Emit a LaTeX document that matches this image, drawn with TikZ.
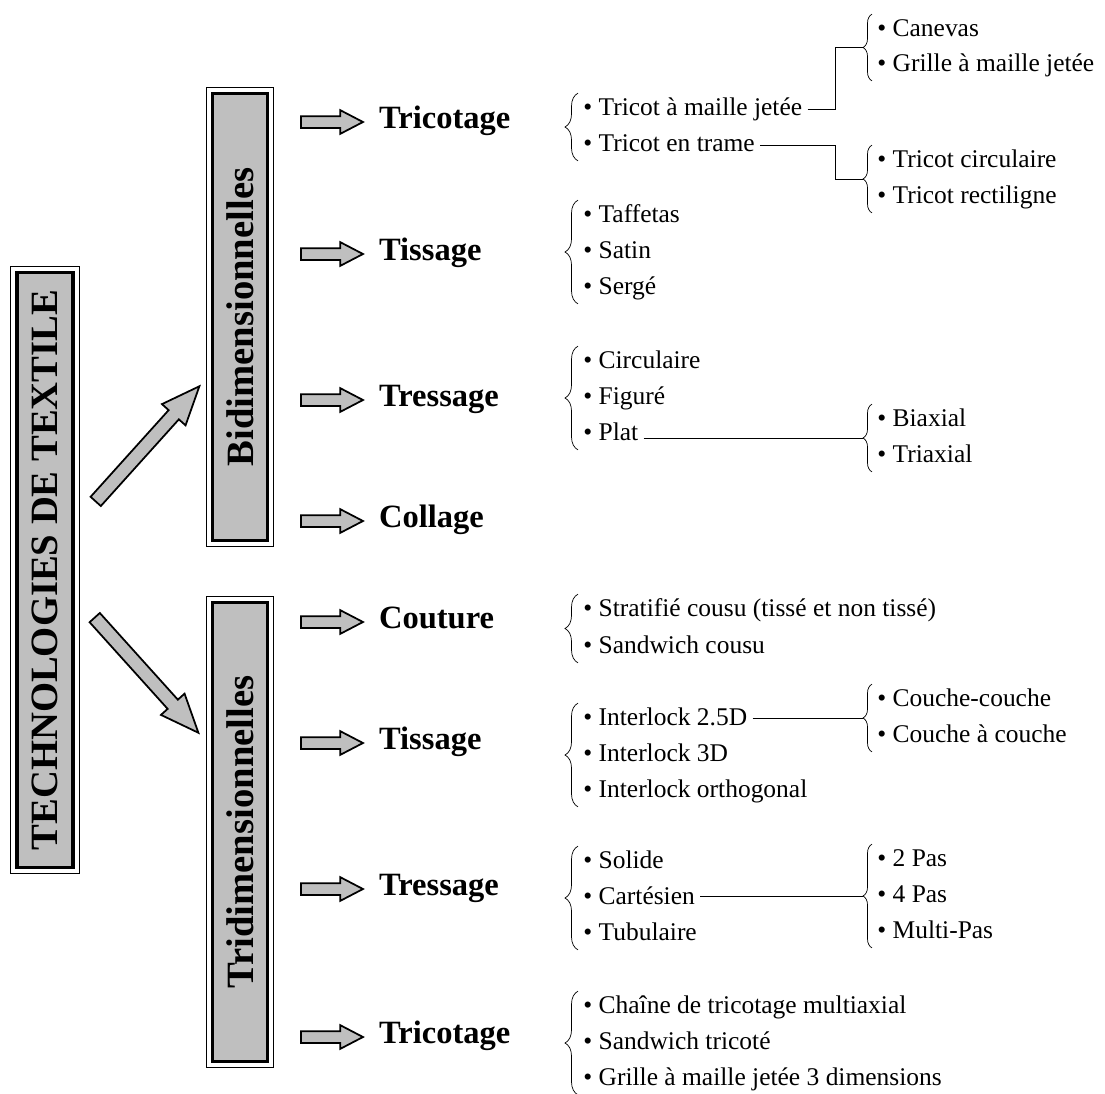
\documentclass[tikz,border=0pt]{standalone}
\usepackage{fontspec}
\setmainfont{Liberation Serif}
\usetikzlibrary{shapes,arrows,positioning,calc,decorations.pathreplacing}

\newcommand{\itemfont}{\fontsize{14.5}{17}\selectfont}
\newcommand{\catfont}{\bfseries\fontsize{18.5}{22}\selectfont}
\newcommand{\boxfont}{\bfseries\fontsize{22}{26}\selectfont}

\begin{document}
\begin{tikzpicture}[
    x=0.02cm, y=-0.02cm,
    mainbox/.style={rectangle, draw, line width=2pt, fill=gray!50, inner sep=0pt, font=\boxfont},
    fatarrow/.style={single arrow, draw, line width=1pt, fill=gray!50, inner xsep=0pt},
    smallarrow/.style={fatarrow, minimum height=1.24cm, inner ysep=0.1cm, single arrow head extend=0.12cm, single arrow tip angle=55},
    bigarrow/.style={fatarrow, minimum height=3.1cm, inner ysep=0.12cm, single arrow head extend=0.18cm, single arrow tip angle=45},
    cat/.style={anchor=west, inner sep=1pt, text height=1.0em, text depth=0.22em, font=\catfont},
    item/.style={anchor=west, inner xsep=0.1cm, inner ysep=0pt, text height=1.0em, text depth=0.22em, minimum height=0.62cm, font=\itemfont},
    lbrace/.style={decorate, decoration={brace, amplitude=0.26cm}, thin},
    sbrace/.style={decorate, decoration={brace, amplitude=0.18cm}, thin},
    link/.style={thin}
]
\useasboundingbox (0,0) rectangle (1105,1093);

% Main boxes
\node[mainbox, minimum width=1.12cm, minimum height=11.9cm] (tech) at (45,570) {\rotatebox{90}{TECHNOLOGIES DE TEXTILE}};
\node[mainbox, minimum width=1.1cm, minimum height=8.94cm] (bidim) at (240,317) {\rotatebox{90}{Bidimensionnelles}};
\node[mainbox, minimum width=1.1cm, minimum height=9.18cm] (tridim) at (240,832) {\rotatebox{90}{Tridimensionnelles}};
\foreach \b in {tech,bidim,tridim}
    \draw[line width=0.6pt] ([shift={(-2.5pt,-2.5pt)}]\b.south west) rectangle ([shift={(2.5pt,2.5pt)}]\b.north east);

% Big arrows
\node[bigarrow, rotate=48] (uparrow) at (142,450) {};
\node[bigarrow, rotate=-48] (downarrow) at (141,669) {};

% Categories
\foreach \y/\txt/\parent [count=\i] in {122/Tricotage/bidim, 254/Tissage/bidim, 400/Tressage/bidim, 521/Collage/bidim,
        622/Couture/tridim, 743/Tissage/tridim, 889/Tressage/tridim, 1037/Tricotage/tridim} {
    \node[cat] (cat\i) at (377,\y) {\txt};
    \path (\parent.east |- cat\i) -- (cat\i.west) node[smallarrow, pos=0.53] (arr\i) {};
}

% Bidimensionnelles lists
\foreach \txt [count=\i] in {Tricot à maille jetée, Tricot en trame}
    \node[item] (tric\i) at (578,{109+36*(\i-1)}) {\textbullet\ \txt};
\foreach \txt [count=\i] in {Taffetas, Satin, Sergé}
    \node[item] (tiss\i) at (578,{216+36*(\i-1)}) {\textbullet\ \txt};
\foreach \txt [count=\i] in {Circulaire, Figuré, Plat}
    \node[item] (tres\i) at (578,{362+36*(\i-1)}) {\textbullet\ \txt};

% Tridimensionnelles lists
\foreach \txt [count=\i] in {Stratifié cousu (tissé et non tissé), Sandwich cousu}
    \node[item] (cout\i) at (578,{610+37*(\i-1)}) {\textbullet\ \txt};
\foreach \txt [count=\i] in {Interlock 2.5D, Interlock 3D, Interlock orthogonal}
    \node[item] (intl\i) at (578,{719+36*(\i-1)}) {\textbullet\ \txt};
\foreach \txt [count=\i] in {Solide, Cartésien, Tubulaire}
    \node[item] (solid\i) at (578,{862+36*(\i-1)}) {\textbullet\ \txt};
\foreach \txt [count=\i] in {Chaîne de tricotage multiaxial, Sandwich tricoté, Grille à maille jetée 3 dimensions}
    \node[item] (mult\i) at (578,{1007+36*(\i-1)}) {\textbullet\ \txt};

% Sub lists
\foreach \txt [count=\i] in {Canevas, Grille à maille jetée}
    \node[item] (canv\i) at (872,{30+35*(\i-1)}) {\textbullet\ \txt};
\foreach \txt [count=\i] in {Tricot circulaire, Tricot rectiligne}
    \node[item] (circ\i) at (872,{161+36*(\i-1)}) {\textbullet\ \txt};
\foreach \txt [count=\i] in {Biaxial, Triaxial}
    \node[item] (biax\i) at (872,{420+36*(\i-1)}) {\textbullet\ \txt};
\foreach \txt [count=\i] in {Couche-couche, Couche à couche}
    \node[item] (couc\i) at (872,{700+36*(\i-1)}) {\textbullet\ \txt};
\foreach \txt [count=\i] in {2 Pas, 4 Pas, Multi-Pas}
    \node[item] (pas\i) at (872,{860+36*(\i-1)}) {\textbullet\ \txt};

% Braces
\draw[lbrace] (tric2.south west) -- (tric1.north west);
\draw[lbrace] (tiss3.south west) -- (tiss1.north west);
\draw[lbrace] (tres3.south west) -- (tres1.north west);
\draw[lbrace] (cout2.south west) -- (cout1.north west);
\draw[lbrace] (intl3.south west) -- (intl1.north west);
\draw[lbrace] (solid3.south west) -- (solid1.north west);
\draw[lbrace] (mult3.south west) -- (mult1.north west);

\draw[sbrace] (canv2.south west) -- (canv1.north west);
\draw[sbrace] (circ2.south west) -- (circ1.north west);
\draw[sbrace] (biax2.south west) -- (biax1.north west);
\draw[sbrace] (couc2.south west) -- (couc1.north west);
\draw[sbrace] (pas3.south west) -- (pas1.north west);

% Brace tips
\coordinate (canvtip) at ($(canv1.north west)!.5!(canv2.south west) + (-0.18cm,0)$);
\coordinate (circtip) at ($(circ1.north west)!.5!(circ2.south west) + (-0.18cm,0)$);
\coordinate (biaxtip) at ($(biax1.north west)!.5!(biax2.south west) + (-0.18cm,0)$);
\coordinate (couctip) at ($(couc1.north west)!.5!(couc2.south west) + (-0.18cm,0)$);
\coordinate (pastip) at ($(pas2.west) + (-0.18cm,0)$);

% Links
\draw[link] (tric1.east) -| ([xshift=-0.56cm]canvtip) -- (canvtip);
\draw[link] (tric2.east) -| ([xshift=-0.56cm]circtip) -- (circtip);
\draw[link] (biaxtip -| tres3.east) -- (biaxtip);
\draw[link] (couctip -| intl1.east) -- (couctip);
\draw[link] (pastip -| solid2.east) -- (pastip);

\end{tikzpicture}
\end{document}
